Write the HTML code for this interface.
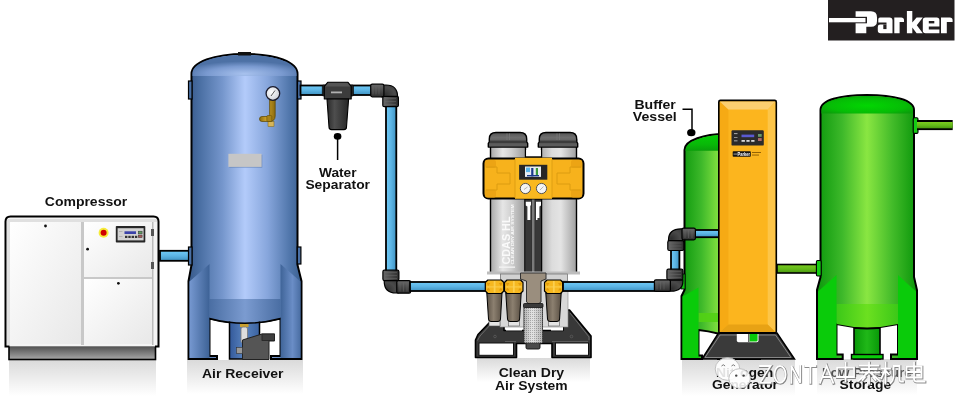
<!DOCTYPE html>
<html><head><meta charset="utf-8">
<style>
html,body{margin:0;padding:0;background:#fff;}
#c{position:relative;width:956px;height:416px;overflow:hidden;background:#fff;}
svg{display:block;will-change:transform;}
text{font-family:"Liberation Sans",sans-serif;}
.lb{font-weight:bold;font-size:12px;fill:#111;}
</style></head><body>
<div id="c">
<svg width="956" height="416" viewBox="0 0 956 416">
<defs>
  <linearGradient id="refl" x1="0" y1="0" x2="0" y2="1">
    <stop offset="0" stop-color="#dadada"/>
    <stop offset="1" stop-color="#ffffff"/>
  </linearGradient>
  <linearGradient id="blueTank" x1="0" y1="0" x2="1" y2="0">
    <stop offset="0" stop-color="#38598a"/>
    <stop offset="0.1" stop-color="#4a6fa3"/>
    <stop offset="0.3" stop-color="#7596cc"/>
    <stop offset="0.5" stop-color="#b3cbfa"/>
    <stop offset="0.7" stop-color="#87a6dc"/>
    <stop offset="0.9" stop-color="#4f75aa"/>
    <stop offset="1" stop-color="#3a5f8f"/>
  </linearGradient>
  <radialGradient id="blueDome" cx="0.5" cy="0.9" r="0.6">
    <stop offset="0" stop-color="#a8c2ee"/>
    <stop offset="0.6" stop-color="#7a9ad0"/>
    <stop offset="1" stop-color="#4d71a5"/>
  </radialGradient>
  <linearGradient id="greenTank" x1="0" y1="0" x2="1" y2="0">
    <stop offset="0" stop-color="#0c980c"/>
    <stop offset="0.25" stop-color="#3db82a"/>
    <stop offset="0.5" stop-color="#8ae642"/>
    <stop offset="0.75" stop-color="#44bc2a"/>
    <stop offset="1" stop-color="#0a960a"/>
  </linearGradient>
  <radialGradient id="greenDome" cx="0.5" cy="0.55" r="0.6">
    <stop offset="0" stop-color="#02d602"/>
    <stop offset="0.7" stop-color="#06bc06"/>
    <stop offset="1" stop-color="#0a9e0a"/>
  </radialGradient>
  <linearGradient id="pipeB" x1="0" y1="0" x2="0" y2="1">
    <stop offset="0" stop-color="#70cbf8"/>
    <stop offset="0.5" stop-color="#5cb4e4"/>
    <stop offset="1" stop-color="#3e92c2"/>
  </linearGradient>
  <linearGradient id="pipeBv" x1="0" y1="0" x2="1" y2="0">
    <stop offset="0" stop-color="#70cbf8"/>
    <stop offset="0.5" stop-color="#5cb4e4"/>
    <stop offset="1" stop-color="#3e92c2"/>
  </linearGradient>
  <linearGradient id="pipeG" x1="0" y1="0" x2="0" y2="1">
    <stop offset="0" stop-color="#7ccc20"/>
    <stop offset="0.55" stop-color="#62b818"/>
    <stop offset="1" stop-color="#4a9610"/>
  </linearGradient>
  <linearGradient id="fit" x1="0" y1="0" x2="0" y2="1">
    <stop offset="0" stop-color="#6a6a6a"/>
    <stop offset="0.5" stop-color="#4a4a4a"/>
    <stop offset="1" stop-color="#2e2e2e"/>
  </linearGradient>
  <linearGradient id="fitv" x1="0" y1="0" x2="1" y2="0">
    <stop offset="0" stop-color="#6a6a6a"/>
    <stop offset="0.5" stop-color="#4a4a4a"/>
    <stop offset="1" stop-color="#2e2e2e"/>
  </linearGradient>
  <linearGradient id="white" x1="0" y1="0" x2="1" y2="1">
    <stop offset="0" stop-color="#ffffff"/>
    <stop offset="1" stop-color="#e8e8e8"/>
  </linearGradient>
  <linearGradient id="baseG" x1="0" y1="0" x2="0" y2="1">
    <stop offset="0" stop-color="#4e4e4e"/>
    <stop offset="1" stop-color="#a8a8a8"/>
  </linearGradient>
  <linearGradient id="silver" x1="0" y1="0" x2="1" y2="0">
    <stop offset="0" stop-color="#a8a8a8"/>
    <stop offset="0.35" stop-color="#e6e6e6"/>
    <stop offset="0.6" stop-color="#d0d0d0"/>
    <stop offset="1" stop-color="#9a9a9a"/>
  </linearGradient>
  <linearGradient id="capG" x1="0" y1="0" x2="0" y2="1">
    <stop offset="0" stop-color="#555"/>
    <stop offset="0.35" stop-color="#6e6e6e"/>
    <stop offset="1" stop-color="#4a4a4a"/>
  </linearGradient>
  <linearGradient id="orangeF" x1="0" y1="0" x2="0" y2="1">
    <stop offset="0" stop-color="#fdc93a"/>
    <stop offset="1" stop-color="#e8a010"/>
  </linearGradient>
  <linearGradient id="bowl" x1="0" y1="0" x2="1" y2="0">
    <stop offset="0" stop-color="#5c5246"/>
    <stop offset="0.45" stop-color="#8c8070"/>
    <stop offset="1" stop-color="#5a5044"/>
  </linearGradient>
  <linearGradient id="sepG" x1="0" y1="0" x2="1" y2="0">
    <stop offset="0" stop-color="#2a2a2a"/>
    <stop offset="0.35" stop-color="#4e4e4e"/>
    <stop offset="1" stop-color="#262626"/>
  </linearGradient>
  <linearGradient id="blueBand" x1="0" y1="0" x2="1" y2="0">
    <stop offset="0" stop-color="#4a6ea3"/>
    <stop offset="0.5" stop-color="#7b9bd0"/>
    <stop offset="1" stop-color="#4a6ea3"/>
  </linearGradient>
  <linearGradient id="skirtL" x1="0" y1="0" x2="1" y2="0">
    <stop offset="0" stop-color="#7698d0"/>
    <stop offset="1" stop-color="#3d6296"/>
  </linearGradient>
  <linearGradient id="skirtR" x1="0" y1="0" x2="1" y2="0">
    <stop offset="0" stop-color="#3f6498"/>
    <stop offset="0.6" stop-color="#6a8dc6"/>
    <stop offset="1" stop-color="#4a6ea3"/>
  </linearGradient>
  <linearGradient id="colB" x1="0" y1="0" x2="1" y2="0">
    <stop offset="0" stop-color="#33599a"/>
    <stop offset="0.5" stop-color="#5a84c0"/>
    <stop offset="1" stop-color="#3a62a0"/>
  </linearGradient>
  <linearGradient id="silver2" x1="0" y1="0" x2="1" y2="0">
    <stop offset="0" stop-color="#b0b0b0"/>
    <stop offset="0.3" stop-color="#dcdcdc"/>
    <stop offset="0.55" stop-color="#e4e4e4"/>
    <stop offset="1" stop-color="#a0a0a0"/>
  </linearGradient>
  <pattern id="mesh" width="2" height="2" patternUnits="userSpaceOnUse">
    <rect width="2" height="2" fill="#ffffff"/>
    <rect width="1" height="1" fill="#666"/>
  </pattern>
  <linearGradient id="meshG" x1="0" y1="0" x2="1" y2="0">
    <stop offset="0" stop-color="#8a8a8a"/>
    <stop offset="0.45" stop-color="#d8d8d8"/>
    <stop offset="1" stop-color="#8a8a8a"/>
  </linearGradient>
  <linearGradient id="greenBand" x1="0" y1="0" x2="1" y2="0">
    <stop offset="0" stop-color="#3cc818"/>
    <stop offset="0.5" stop-color="#6ce020"/>
    <stop offset="1" stop-color="#3cc818"/>
  </linearGradient>
  <linearGradient id="colG" x1="0" y1="0" x2="1" y2="0">
    <stop offset="0" stop-color="#089808"/>
    <stop offset="0.5" stop-color="#20b818"/>
    <stop offset="1" stop-color="#089808"/>
  </linearGradient>
  <linearGradient id="brass" x1="0" y1="0" x2="1" y2="0">
    <stop offset="0" stop-color="#8a6a10"/>
    <stop offset="0.45" stop-color="#d0a428"/>
    <stop offset="1" stop-color="#8a6a10"/>
  </linearGradient>
  <radialGradient id="gface" cx="0.4" cy="0.4" r="0.7">
    <stop offset="0" stop-color="#ffffff"/>
    <stop offset="1" stop-color="#c8ccd4"/>
  </radialGradient>
  <radialGradient id="bendG" cx="0.2" cy="0.8" r="1">
    <stop offset="0" stop-color="#2e2e2e"/>
    <stop offset="0.6" stop-color="#4a4a4a"/>
    <stop offset="1" stop-color="#3a3a3a"/>
  </radialGradient>
  <linearGradient id="greenDome2" x1="0" y1="0" x2="0" y2="1">
    <stop offset="0" stop-color="#06cc06"/>
    <stop offset="0.6" stop-color="#08b808"/>
    <stop offset="1" stop-color="#0a9e0a"/>
  </linearGradient>
</defs>

<!-- reflections -->
<rect x="9" y="360" width="147" height="36" fill="url(#refl)"/>
<rect x="187" y="360" width="116" height="34" fill="url(#refl)"/>
<rect x="477" y="358" width="113" height="24" fill="url(#refl)"/>
<rect x="682" y="360" width="113" height="36" fill="url(#refl)"/>
<rect x="817" y="359" width="100" height="36" fill="url(#refl)"/>

<!-- ============ COMPRESSOR ============ -->
<g id="compressor">
  <rect x="9" y="346" width="146.5" height="13.5" fill="url(#baseG)" stroke="#000" stroke-width="1.6"/>
  <path d="M5.5,346.5 L5.5,221.5 Q5.5,216.5 10.5,216.5 L153.5,216.5 Q158.5,216.5 158.5,221.5 L158.5,346.5 Z" fill="#f4f4f4"/>
  <rect x="7" y="219" width="150" height="3" fill="#e0e0e0"/>
  <rect x="10" y="222" width="71" height="122" fill="url(#white)"/>
  <rect x="81" y="222" width="3" height="123" fill="#c8c8c8"/>
  <rect x="84" y="222" width="68" height="55" fill="url(#white)"/>
  <rect x="84" y="277" width="68" height="2" fill="#c8c8c8"/>
  <rect x="84" y="279" width="68" height="65" fill="url(#white)"/>
  <rect x="152" y="222" width="1.5" height="123" fill="#bbb"/>
  <rect x="7" y="222" width="3" height="123" fill="#e2e2e2"/>
  <path d="M9.5,346.5 L5.5,346.5 L5.5,221.5 Q5.5,216.5 10.5,216.5 L153.5,216.5 Q158.5,216.5 158.5,221.5 L158.5,346.5 L155,346.5" fill="none" stroke="#000" stroke-width="2"/>
  <circle cx="45.5" cy="226" r="1.4" fill="#111"/>
  <circle cx="87.6" cy="249.2" r="1.4" fill="#111"/>
  <circle cx="118.4" cy="283.3" r="1.4" fill="#111"/>
  <circle cx="103.6" cy="232.7" r="5" fill="#f6ec3a"/>
  <circle cx="103.6" cy="232.7" r="3" fill="#d00000"/>
  <rect x="115.8" y="226" width="29.5" height="16.5" rx="0.8" fill="#262626"/>
  <rect x="117.6" y="228.2" width="26" height="12.2" fill="#d2d2d2"/>
  <rect x="124.5" y="231.3" width="11.5" height="2.7" fill="#3a42a8"/>
  <rect x="125" y="235.8" width="2.4" height="2.2" fill="#333"/>
  <rect x="128.3" y="235.8" width="2.4" height="2.2" fill="#333"/>
  <rect x="131.6" y="235.8" width="2.4" height="2.2" fill="#333"/>
  <rect x="134.9" y="235.8" width="2.4" height="2.2" fill="#333"/>
  <rect x="119" y="231" width="3.5" height="0.8" fill="#aaa"/>
  <rect x="119" y="236" width="3.5" height="0.8" fill="#aaa"/>
  <rect x="138.3" y="231.2" width="3.8" height="2.6" fill="#5e9e5e" stroke="#333" stroke-width="0.5"/>
  <rect x="138.3" y="235" width="3.8" height="2.6" fill="#a85858" stroke="#333" stroke-width="0.5"/>
  <rect x="151" y="229" width="3" height="7" fill="#555"/>
  <rect x="151" y="262" width="3" height="7" fill="#555"/>
</g>

<!-- pipe compressor -> receiver -->
<rect x="160" y="250.8" width="30" height="10" fill="url(#pipeB)" stroke="#000" stroke-width="1.8"/>

<!-- ============ AIR RECEIVER ============ -->
<g id="receiver">
  <!-- body incl. skirt -->
  <path d="M191.5,265 L191.5,74 C191.5,62 214,54 245,54 C276,54 297.5,62 297.5,74 L297.5,265 L301.5,281 L301.5,359 L271,359 L271,356 L280.5,356 L280.5,318.5 Q245,328 209.5,318.5 L209.5,356 L217,356 L217,359 L188.5,359 L188.5,281 Z" fill="url(#blueTank)" stroke="#000" stroke-width="2"/>
  <path d="M192.5,76 L192.5,73 C192.5,63 214,55 245,55 C276,55 296.5,63 296.5,73 L296.5,76 Z" fill="url(#blueDome)"/>
  <!-- lower dome band -->
  <rect x="229.5" y="319" width="30" height="40" fill="url(#colB)"/>
  <path d="M209.5,299 L280.5,299 L280.5,318.5 Q245,328 209.5,318.5 Z" fill="url(#blueBand)"/>
  <!-- skirt panels -->
  <path d="M189.5,281.5 L209.5,264 L209.5,358 L189.5,358 Z" fill="url(#skirtL)"/>
  <path d="M300.5,281.5 L280.5,264 L280.5,358 L300.5,358 Z" fill="url(#skirtR)"/>
  <!-- center column -->
  <path d="M229.5,321.5 L229.5,359 L259.5,359 L259.5,321.5" fill="none" stroke="#000" stroke-width="1.5"/>
  <path d="M209.5,318.5 Q245,328 280.5,318.5" fill="none" stroke="#000" stroke-width="1.6"/>
  <!-- nozzles -->
  <rect x="188.5" y="81" width="3.5" height="18" fill="#4a70a5" stroke="#000" stroke-width="1.2"/>
  <rect x="297.5" y="81" width="3.5" height="18" fill="#4a70a5" stroke="#000" stroke-width="1.2"/>
  <rect x="188.5" y="247" width="3.5" height="18" fill="#4a70a5" stroke="#000" stroke-width="1.2"/>
  <rect x="297.3" y="247" width="3.6" height="17" fill="#4a70a5" stroke="#000" stroke-width="1.2"/>
  <rect x="238" y="52" width="13" height="3.5" fill="#111"/>
  <!-- label plate -->
  <rect x="229.3" y="154.7" width="33" height="13" fill="#5a78a8" opacity="0.6"/>
  <rect x="228.4" y="153.8" width="33.2" height="13.1" fill="#c6c6c6"/>
  <!-- gauge -->
  <rect x="268" y="121.5" width="6" height="5" fill="#d6b55a" stroke="#7a6010" stroke-width="0.5"/>
  <path d="M275.2,112 L275.2,116 Q275.2,121.5 269,121.5 L262,121.5 Q259.5,121.5 259.5,119 Q259.5,116.5 262,116.5 L268,116.5 Q269.6,116.5 269.6,114.5 L269.6,99 L275.2,99 Z" fill="url(#brass)" stroke="#5a4500" stroke-width="0.7"/>
  <rect x="266.8" y="115.5" width="5" height="6" rx="1" fill="#a8841a" stroke="#5a4500" stroke-width="0.5"/>
  <circle cx="272.9" cy="93.5" r="6.8" fill="url(#gface)" stroke="#1a1a2a" stroke-width="1.3"/>
  <line x1="271" y1="96" x2="275" y2="90.5" stroke="#333" stroke-width="0.8"/>
  <!-- drain -->
  <rect x="240" y="324" width="8.5" height="3" fill="#c8a030"/>
  <rect x="241" y="327" width="6.5" height="16" rx="2" fill="#ddd" stroke="#777" stroke-width="0.8"/>
  <path d="M242.5,340 L262,334 L274.5,334 L274.5,341 L269,341 L269,359.5 L242.5,359.5 Z" fill="#555" stroke="#222" stroke-width="1"/>
  <rect x="262" y="334" width="12.5" height="6.5" fill="#3e3e3e" stroke="#222" stroke-width="0.8"/>
  <rect x="236.5" y="347.5" width="6" height="6" fill="#999" stroke="#333" stroke-width="0.6"/>
</g>

<!-- pipe receiver -> separator -> elbow -->
<rect x="300.5" y="85.5" width="72" height="9.5" fill="url(#pipeB)" stroke="#000" stroke-width="1.8"/>
<!-- water separator -->
<g id="sep">
  <rect x="322.3" y="85" width="3.2" height="11" rx="1" fill="#222" stroke="#000" stroke-width="0.6"/>
  <rect x="350.3" y="85" width="3.2" height="11" rx="1" fill="#222" stroke="#000" stroke-width="0.6"/>
  <path d="M327.7,82.3 L348,82.3 L351.2,86.4 L351.2,99 L324.3,99 L324.3,86.4 Z" fill="#3c3c3c" stroke="#000" stroke-width="1.1" stroke-linejoin="round"/>
  <path d="M328.2,83 L347.5,83 L350.3,86.4 L325.2,86.4 Z" fill="#555"/>
  <path d="M327,99 L348.6,99 L346.5,127 Q346.5,129.6 344,129.6 L331.5,129.6 Q329,129.6 329,127 Z" fill="url(#sepG)" stroke="#000" stroke-width="1.1"/>
  <rect x="331" y="91.5" width="11" height="1.8" fill="#b0b0b0"/>
  <ellipse cx="337.6" cy="136.4" rx="3.8" ry="3.3" fill="#000"/>
  <line x1="337.6" y1="137" x2="337.6" y2="160" stroke="#000" stroke-width="1.5"/>
</g>
<!-- vertical pipe down -->
<rect x="386" y="104" width="10.3" height="168" fill="url(#pipeBv)" stroke="#000" stroke-width="1.8"/>
<!-- top elbow -->
<g stroke="#000" stroke-width="1.2">
  <path d="M382,85 L386,85 Q397.6,85 397.6,97 L382,97 Z" fill="url(#bendG)"/>
  <rect x="370.7" y="84.2" width="13.2" height="12.6" rx="1.5" fill="url(#fit)"/>
  <rect x="382.8" y="96.3" width="15.6" height="10.4" rx="1.5" fill="url(#fitv)"/>
</g>
<path d="M373,86.5 L373,94.5 M376,86.5 L376,94.5 M379,86.5 L379,94.5 M385,98.5 L396,98.5 M385,101.5 L396,101.5 M385,104.5 L396,104.5" stroke="#6a6a6a" stroke-width="0.7" opacity="0.7"/>
<!-- bottom elbow -->
<g stroke="#000" stroke-width="1.2">
  <path d="M384.2,280 L398,280 L398,293 L396,293 Q384.2,293 384.2,281 Z" fill="url(#bendG)"/>
  <rect x="382.9" y="270.2" width="16" height="10.4" rx="1.5" fill="url(#fitv)"/>
  <rect x="396.8" y="280.6" width="13.8" height="12.6" rx="1.5" fill="url(#fit)"/>
</g>
<path d="M385,272.5 L397,272.5 M385,275.5 L397,275.5 M385,278.5 L397,278.5 M400,282.5 L400,291.5 M403.5,282.5 L403.5,291.5 M407,282.5 L407,291.5" stroke="#6a6a6a" stroke-width="0.7" opacity="0.7"/>
<!-- pipe to CDAS -->
<rect x="410" y="282" width="76" height="9" fill="url(#pipeB)" stroke="#000" stroke-width="1.8"/>

<!-- ============ CDAS ============ -->
<g id="cdas">
  <!-- cylinders -->
  <rect x="490.5" y="140" width="35" height="133" fill="url(#silver)" stroke="#000" stroke-width="1.4"/>
  <rect x="541.5" y="140" width="35" height="133" fill="url(#silver2)" stroke="#000" stroke-width="1.4"/>
  <rect x="526.2" y="150" width="14.6" height="123" fill="#fff"/>
  <rect x="524.8" y="199" width="7" height="75" fill="#383838" stroke="#000" stroke-width="0.9"/>
  <rect x="534.6" y="199" width="7" height="75" fill="#383838" stroke="#000" stroke-width="0.9"/>
  <rect x="531.8" y="199" width="2.8" height="75" fill="#7a7a7a"/>
  <path d="M525.8,201.8 L531,201.8 L531,205 L530.3,206 L530.3,220 L527.4,220 L527.4,206.5 L525.8,205.5 Z" fill="#fff"/>
  <path d="M536,201.8 L541,201.8 L541,205.5 L539.4,206.5 L539.4,218 L537.5,218 L537.5,220 L536,220 Z" fill="#fff"/>
  
  <rect x="487" y="271.5" width="93" height="3" fill="#bdbdbd"/>
  <rect x="500.5" y="274" width="67" height="8" fill="#d2d2d2" stroke="#777" stroke-width="0.8"/>
  <!-- caps -->
  <path d="M488.3,147 L488.3,143.5 L489.3,142 L489.3,139 Q489.3,132.5 496,132.5 L520,132.5 Q526.7,132.5 526.7,139 L526.7,142 L527.7,143.5 L527.7,147 Z" fill="url(#capG)" stroke="#000" stroke-width="1.4" stroke-linejoin="round"/>
  <path d="M538.3,147 L538.3,143.5 L539.3,142 L539.3,139 Q539.3,132.5 546,132.5 L570,132.5 Q576.7,132.5 576.7,139 L576.7,142 L577.7,143.5 L577.7,147 Z" fill="url(#capG)" stroke="#000" stroke-width="1.4" stroke-linejoin="round"/>
  <rect x="489.8" y="140.6" width="36.4" height="2.6" fill="#3c3c3c"/>
  <rect x="539.8" y="140.6" width="36.4" height="2.6" fill="#3c3c3c"/>
  <rect x="489" y="143.5" width="38" height="3" fill="#5c5c5c"/>
  <rect x="539" y="143.5" width="38" height="3" fill="#5c5c5c"/>
  <path d="M507,133.5 L507,140 M509.5,133.5 L509.5,140 M557,133.5 L557,140 M559.5,133.5 L559.5,140" stroke="#777" stroke-width="0.9"/>
  <rect x="526" y="156.3" width="15" height="3.4" fill="#000"/>
  <!-- manifold -->
  <rect x="483.5" y="158.5" width="100" height="40" rx="5" fill="#f7b21c" stroke="#000" stroke-width="2"/>
  <rect x="515" y="157.8" width="37" height="41" fill="#f9b820"/>
  <line x1="515" y1="159" x2="515" y2="198" stroke="#d99a10" stroke-width="0.8"/>
  <line x1="552" y1="159" x2="552" y2="198" stroke="#d99a10" stroke-width="0.8"/>
  <rect x="485" y="160" width="11" height="8" rx="2" fill="#eca414"/>
  <rect x="485" y="189.5" width="11" height="8" rx="2" fill="#eca414"/>
  <rect x="571" y="160" width="11" height="8" rx="2" fill="#eca414"/>
  <rect x="571" y="189.5" width="11" height="8" rx="2" fill="#eca414"/>
  <path d="M486,167 L497,167 L497,173 L510,173 L510,184 L497,184 L497,190 L486,190" fill="none" stroke="#dc9c10" stroke-width="1"/>
  <path d="M581,167 L570,167 L570,173 L557,173 L557,184 L570,184 L570,190 L581,190" fill="none" stroke="#dc9c10" stroke-width="1"/>
  <rect x="519.1" y="164.8" width="28.2" height="14.9" fill="#262626"/>
  <rect x="525" y="166.5" width="16" height="10.4" fill="#e8eef2"/>
  <rect x="526" y="167.6" width="4" height="4.5" fill="#5ab4e8"/>
  <rect x="531.2" y="168" width="2.2" height="8.4" fill="#1a3a8a"/>
  <rect x="535.8" y="168" width="2.2" height="8" fill="#3a9a3a"/>
  <rect x="527" y="175" width="12" height="1.4" fill="#1a3a8a"/>
  <circle cx="525.4" cy="188.5" r="5.1" fill="#f4f4f4" stroke="#555" stroke-width="1"/>
  <circle cx="541.5" cy="188.5" r="5.1" fill="#f4f4f4" stroke="#555" stroke-width="1"/>
  <line x1="524" y1="189.5" x2="527.5" y2="187" stroke="#888" stroke-width="0.6"/>
  <line x1="540" y1="190" x2="543.5" y2="186.5" stroke="#888" stroke-width="0.6"/>
  <!-- text on cylinder -->
  <text transform="translate(509.8,264.5) rotate(-90)" font-size="11" fill="#fafafa" font-family="Liberation Sans" font-weight="bold" textLength="48" lengthAdjust="spacingAndGlyphs">CDAS HL</text>
  <text transform="translate(513.6,264.5) rotate(-90)" font-size="4.4" fill="#fafafa" font-family="Liberation Sans" font-weight="bold" textLength="60" lengthAdjust="spacingAndGlyphs">CLEAN DRY AIR SYSTEM</text>
  <rect x="499" y="266.5" width="16" height="1.3" fill="#f4f4f4"/>
  <!-- base frame -->
  <path d="M490,322 L504,322 L504,330.5 L563,330.5 L563,310 L569.5,310 L591,336 L591,357.5 L552,357.5 L552,343.5 L516.5,343.5 L516.5,357.5 L475.5,357.5 L475.5,340 L478,334.5 Z" fill="#383838" stroke="#000" stroke-width="1.6" stroke-linejoin="round"/>
  <path d="M477.5,340.5 L480,336 L491,324" fill="none" stroke="#777" stroke-width="0.8"/>
  <path d="M589,340 L589,337 L570,313" fill="none" stroke="#777" stroke-width="0.8"/>
  <line x1="505" y1="341.5" x2="516" y2="341.5" stroke="#666" stroke-width="0.8"/>
  <line x1="552" y1="341.5" x2="588" y2="341.5" stroke="#666" stroke-width="0.8"/>
  <rect x="479" y="343" width="34.5" height="12.3" fill="#fff" stroke="#111" stroke-width="1"/>
  <rect x="555.5" y="343" width="33" height="12.3" fill="#fff" stroke="#111" stroke-width="1"/>
  <circle cx="495" cy="336.5" r="1.3" fill="none" stroke="#666" stroke-width="0.6"/>
  <circle cx="571.5" cy="336.5" r="1.3" fill="none" stroke="#666" stroke-width="0.6"/>
  <rect x="506" y="327" width="16" height="3.5" fill="#fff"/>
  <rect x="551" y="327" width="12" height="3.5" fill="#fff"/>
  <rect x="500" y="281" width="68" height="46" fill="#d8d8d8" stroke="#888" stroke-width="0.6"/>
  <!-- center housing + mesh -->
  <path d="M520.5,273 L546,273 L546,279 L541,281 L541,302 Q533,309 526.5,302 L526.5,281 L520.5,279 Z" fill="#9a8e7e" stroke="#333" stroke-width="1"/>
  <rect x="526" y="341" width="14" height="8" rx="1.5" fill="#4a4a4a" stroke="#111" stroke-width="0.9"/>
  <rect x="524" y="305" width="18.5" height="38" rx="1" fill="url(#meshG)" stroke="#333" stroke-width="1"/>
  <rect x="524" y="305" width="18.5" height="38" fill="url(#mesh)" opacity="0.35"/>
  <rect x="523.5" y="303.5" width="19.5" height="4" rx="1" fill="#3a3a3a" stroke="#111" stroke-width="0.8"/>
  <!-- filters -->
  <g>
    <rect x="489" y="320" width="11" height="6" fill="#e4e4e4" stroke="#555" stroke-width="0.6"/>
    <rect x="508.5" y="320" width="11" height="6" fill="#e4e4e4" stroke="#555" stroke-width="0.6"/>
    <rect x="548.5" y="320" width="11" height="6" fill="#e4e4e4" stroke="#555" stroke-width="0.6"/>
    <path d="M486.8,293 L502,293 L500.5,319 Q500.5,321.5 498,321.5 L491,321.5 Q488.5,321.5 488.5,319 Z" fill="url(#bowl)" stroke="#000" stroke-width="1"/>
    <g transform="translate(485.3,280)">
      <path d="M2.5,0 L16,0 L18.5,2.5 L18.5,11 L16,13.5 L2.5,13.5 L0,11 L0,2.5 Z" fill="#f6b820" stroke="#000" stroke-width="1.2" stroke-linejoin="round"/>
      <path d="M1,2.8 L5,3 L3,6 Z M17.5,2.8 L13.5,3 L15.5,6 Z M1,10.5 L5,10.5 L3,7.8 Z M17.5,10.5 L13.5,10.5 L15.5,7.8 Z" fill="#e39c0c"/>
      <rect x="8.4" y="1" width="1.8" height="11.5" fill="#fcd45a" opacity="0.8"/>
      <rect x="1" y="6.2" width="16.5" height="1.4" fill="#fcd45a" opacity="0.6"/>
    </g>
    <path d="M505.8,293 L521.2,293 L519.6,319 Q519.6,321.5 517,321.5 L510,321.5 Q507.5,321.5 507.5,319 Z" fill="url(#bowl)" stroke="#000" stroke-width="1"/>
    <g transform="translate(504.5,280)">
      <path d="M2.5,0 L16,0 L18.5,2.5 L18.5,11 L16,13.5 L2.5,13.5 L0,11 L0,2.5 Z" fill="#f6b820" stroke="#000" stroke-width="1.2" stroke-linejoin="round"/>
      <path d="M1,2.8 L5,3 L3,6 Z M17.5,2.8 L13.5,3 L15.5,6 Z M1,10.5 L5,10.5 L3,7.8 Z M17.5,10.5 L13.5,10.5 L15.5,7.8 Z" fill="#e39c0c"/>
      <rect x="8.4" y="1" width="1.8" height="11.5" fill="#fcd45a" opacity="0.8"/>
      <rect x="1" y="6.2" width="16.5" height="1.4" fill="#fcd45a" opacity="0.6"/>
    </g>
    <path d="M545.8,293 L561.2,293 L559.6,319 Q559.6,321.5 557,321.5 L550,321.5 Q547.5,321.5 547.5,319 Z" fill="url(#bowl)" stroke="#000" stroke-width="1"/>
    <g transform="translate(544.5,280)">
      <path d="M2.5,0 L16,0 L18.5,2.5 L18.5,11 L16,13.5 L2.5,13.5 L0,11 L0,2.5 Z" fill="#f6b820" stroke="#000" stroke-width="1.2" stroke-linejoin="round"/>
      <path d="M1,2.8 L5,3 L3,6 Z M17.5,2.8 L13.5,3 L15.5,6 Z M1,10.5 L5,10.5 L3,7.8 Z M17.5,10.5 L13.5,10.5 L15.5,7.8 Z" fill="#e39c0c"/>
      <rect x="8.4" y="1" width="1.8" height="11.5" fill="#fcd45a" opacity="0.8"/>
      <rect x="1" y="6.2" width="16.5" height="1.4" fill="#fcd45a" opacity="0.6"/>
    </g>
  </g>
</g>

<!-- ============ BUFFER VESSEL ============ -->
<g id="buffer">
  <path d="M684.5,290 L684.5,150 C684.5,140 705,134 725,134 L760,134 L760,359 L718,359 L718,333.5 Q708,331 698.5,330 L698.5,355.5 L702,355.5 L702,359 L681.5,359 L681.5,296 Z" fill="url(#greenTank)" stroke="#000" stroke-width="2"/>
  <path d="M685.5,150.8 L685.5,150 C686,141 705,135 725,135 L740,135 L740,150.8 Z" fill="url(#greenDome2)"/>
  <path d="M698.5,313 L740,313 L740,322 L698.5,322 Z" fill="#52d214" opacity="0.9"/>
  <path d="M682.5,296.5 L698.5,287.5 L698.5,358 L682.5,358 Z" fill="#0acb0a"/>
  <rect x="681" y="274" width="4" height="15" fill="#10c010" stroke="#000" stroke-width="0.8"/>
</g>

<rect x="694" y="230" width="26" height="7.2" fill="url(#pipeB)" stroke="#000" stroke-width="1.8"/>
<!-- pipe CDAS -> buffer -->
<rect x="563" y="282" width="92" height="9" fill="url(#pipeB)" stroke="#000" stroke-width="1.8"/>
<rect x="671" y="249" width="8.4" height="22" fill="url(#pipeBv)" stroke="#000" stroke-width="1.8"/>
<!-- lower elbow -->
<g stroke="#000" stroke-width="1.2">
  <path d="M669,279.8 L682.9,279.8 L682.9,281 Q682.9,291.2 671,291.2 L669,291.2 Z" fill="url(#bendG)"/>
  <rect x="666.9" y="269.2" width="16" height="10.6" rx="1.5" fill="url(#fitv)"/>
  <rect x="654.4" y="279.8" width="16" height="11.6" rx="1.5" fill="url(#fit)"/>
</g>
<path d="M669,271.5 L681,271.5 M669,274.5 L681,274.5 M669,277.5 L681,277.5 M657,281.5 L657,289.5 M660.5,281.5 L660.5,289.5 M664,281.5 L664,289.5" stroke="#6a6a6a" stroke-width="0.7" opacity="0.7"/>
<!-- upper elbow -->
<g stroke="#000" stroke-width="1.2">
  <path d="M668.5,241 L668.5,240 Q668.5,228.8 681,228.8 L683,228.8 L683,241 Z" fill="url(#bendG)"/>
  <rect x="682" y="228.2" width="13.4" height="11.6" rx="1.5" fill="url(#fit)"/>
  <rect x="667.8" y="240.7" width="16" height="9.8" rx="1.5" fill="url(#fitv)"/>
</g>
<path d="M685,230 L685,238 M688.5,230 L688.5,238 M692,230 L692,238 M670,243 L681.5,243 M670,246 L681.5,246 M670,249 L681.5,249" stroke="#6a6a6a" stroke-width="0.7" opacity="0.7"/>

<!-- ============ NITROGEN GENERATOR ============ -->
<g id="gen">
  <path d="M718.5,333 L777,333 L794.5,359 L702,359 Z" fill="#3a3a3a" stroke="#000" stroke-width="1.5"/>
  <path d="M720,335 L775.5,335 L791,357.5 L705,357.5 Z" fill="none" stroke="#999" stroke-width="0.8"/>
  <path d="M736.8,333 L758.5,333 L758.5,340.5 Q758.5,342.3 756.7,342.3 L738.6,342.3 Q736.8,342.3 736.8,340.5 Z" fill="#fff"/>
  <path d="M749.6,333 L757.6,333 L757.6,340.3 Q757.6,341.4 756.5,341.4 L749.6,341.4 Z" fill="#0ac80a"/>
  <line x1="748.8" y1="333" x2="748.8" y2="342" stroke="#111" stroke-width="0.9"/>
  <rect x="718.9" y="100.5" width="57.3" height="232.5" rx="1.5" fill="#fcb51e" stroke="#000" stroke-width="1.8"/>
  <path d="M719.8,101.4 L728.4,109.6 L728.4,324.5 L719.8,332 Z" fill="#f6aa14"/>
  <path d="M775.3,101.4 L767.7,109.6 L767.7,324.5 L775.3,332 Z" fill="#fdc548"/>
  <path d="M719.8,101.4 L775.3,101.4 L767.7,109.6 L728.4,109.6 Z" fill="#fbce70"/>
  <path d="M719.8,332.1 L775.3,332.1 L767.7,324.5 L728.4,324.5 Z" fill="#e8a214"/>
  <rect x="731.5" y="130.2" width="32.3" height="15.4" rx="1.2" fill="#2b2b2b"/>
  <rect x="741.5" y="134.6" width="12.7" height="2.6" fill="#5a5ad2"/>
  <rect x="741.5" y="140" width="3.4" height="1.8" fill="#d8d8d8"/>
  <rect x="746.4" y="140" width="3.2" height="1.8" fill="#d8d8d8"/>
  <rect x="751.2" y="140" width="3.3" height="1.8" fill="#d8d8d8"/>
  <rect x="734" y="133.2" width="3.5" height="0.9" fill="#bbb"/>
  <rect x="734" y="137" width="3.5" height="0.9" fill="#999"/>
  <rect x="734" y="140.4" width="3.5" height="0.9" fill="#bbb"/>
  <rect x="758" y="134" width="3.7" height="2.8" fill="#6a9a6a"/>
  <rect x="758" y="138.1" width="3.7" height="2.9" fill="#b06a6a"/>
  <rect x="732.7" y="151.2" width="18.1" height="5.6" rx="0.8" fill="#151515"/>
  <rect x="733.5" y="153.7" width="4" height="0.7" fill="#ddd"/>
  <text x="737.5" y="155.8" font-size="5" font-weight="bold" fill="#fff" font-family="Liberation Sans" textLength="12.5" lengthAdjust="spacingAndGlyphs">Parker</text>
  <rect x="752" y="152" width="9" height="0.9" fill="#8a5a00"/>
  <rect x="752" y="154.6" width="7" height="0.9" fill="#8a5a00"/>
</g>

<!-- green pipe gen -> storage -->
<rect x="777" y="264.5" width="41" height="8.5" fill="url(#pipeG)" stroke="#000" stroke-width="1.6"/>

<!-- ============ STORAGE ============ -->
<g id="storage">
  <path d="M820.5,277 L820.5,110 C820.5,100 840,95 867,95 C894,95 914,100 914,110 L914,277 L917,290 L917,359 L891,359 L891,354.5 L898,354.5 L898,324 Q867,331 836.5,324 L836.5,354.5 L842.7,354.5 L842.7,359 L817,359 L817,290 Z" fill="url(#greenTank)" stroke="#000" stroke-width="2"/>
  <path d="M821.5,113.5 L821.5,110 C821.5,101 840,96 867,96 C894,96 913,101 913,110 L913,113.5 Z" fill="url(#greenDome)"/>
  <path d="M836.5,304 L898,304 L898,324 Q867,331 836.5,324 Z" fill="url(#greenBand)"/>
  <path d="M818,291.5 L836.5,275 L836.5,358 L818,358 Z" fill="#0acb0a"/>
  <path d="M916,291.5 L898,275 L898,358 L916,358 Z" fill="#0acb0a"/>
  <path d="M854,359 L854,328 Q867,329.5 880,328 L880,359 Z" fill="url(#colG)" stroke="#000" stroke-width="1.6"/>
  <rect x="851.5" y="354.5" width="31.5" height="4.5" fill="#0acb0a" stroke="#000" stroke-width="1.4"/>
  <rect x="816.4" y="260.5" width="4.8" height="15.5" rx="1.2" fill="#14cc14" stroke="#000" stroke-width="1.1"/>
  <rect x="913.2" y="117.8" width="4.8" height="15.6" rx="1.2" fill="#14cc14" stroke="#000" stroke-width="1.1"/>
</g>
<rect x="917" y="120" width="35.7" height="10.1" fill="#000"/>
<rect x="917" y="122" width="35.7" height="6.3" fill="url(#pipeG)"/>

<!-- ============ PARKER LOGO ============ -->
<g id="parker">
  <rect x="828" y="0" width="126.5" height="40.5" fill="#231f20"/>
  <g fill="#fff">
    <!-- P -->
    <path d="M855.6,11.3 L871,11.3 Q877,11.3 877,17.5 L877,21 Q877,26.8 871,26.8 L866.3,26.8 L866.3,33.2 L855.6,33.2 Z"/>
    <!-- a -->
    <path d="M880,17.6 L889.5,17.6 Q892.5,17.6 892.5,20.6 L892.5,33.2 L880.5,33.2 Q877.8,33.2 877.8,30.5 L877.8,27 Q877.8,24.6 880.2,24.6 L886.5,24.6 L886.5,22.4 L878.3,22.4 L878.3,19.3 Q878.3,17.6 880,17.6 Z"/>
    <!-- r -->
    <path d="M894.3,17.6 L901.2,17.6 Q904,17.6 904,20.3 L904,22 L899.6,22 L899.6,33.2 L894.3,33.2 Z"/>
    <!-- k -->
    <path d="M906.9,11 L912.3,11 L912.3,22.6 L916.6,17.6 L922.8,17.6 L916.8,25.2 L922.8,33.2 L916.6,33.2 L912.3,27.6 L912.3,33.2 L906.9,33.2 Z"/>
    <!-- e -->
    <path d="M925.5,17.6 L936.7,17.6 Q939.4,17.6 939.4,20.3 L939.4,26.5 L928.8,26.5 L928.8,29.5 L939.4,29.5 L939.4,33.2 L925.5,33.2 Q922.8,33.2 922.8,30.5 L922.8,20.3 Q922.8,17.6 925.5,17.6 Z"/>
    <!-- r -->
    <path d="M941,17.6 L949.8,17.6 Q952.6,17.6 952.6,20.3 L952.6,22 L946.8,22 L946.8,33.2 L941,33.2 Z"/>
  </g>
  <rect x="928.8" y="21" width="5.5" height="2.4" fill="#231f20"/>
  <rect x="883.3" y="24.5" width="3.2" height="4.6" fill="#231f20"/>
  <rect x="850" y="16.8" width="17" height="6.5" fill="#231f20"/>
  <rect x="829" y="18" width="36.5" height="4.3" fill="#fff"/>
</g>

<!-- ============ LABELS ============ -->
<text class="lb" x="44.8" y="205.5" textLength="82.4" lengthAdjust="spacingAndGlyphs">Compressor</text>
<text class="lb" x="202.0" y="378" textLength="81.5" lengthAdjust="spacingAndGlyphs">Air Receiver</text>
<text class="lb" x="319.0" y="177.1" textLength="37.6" lengthAdjust="spacingAndGlyphs">Water</text>
<text class="lb" x="305.4" y="189.3" textLength="64.6" lengthAdjust="spacingAndGlyphs">Separator</text>
<text class="lb" x="498.7" y="377.4" textLength="65.5" lengthAdjust="spacingAndGlyphs">Clean Dry</text>
<text class="lb" x="495.0" y="389.7" textLength="72.6" lengthAdjust="spacingAndGlyphs">Air System</text>
<text class="lb" x="634.4" y="108.8" textLength="41.4" lengthAdjust="spacingAndGlyphs">Buffer</text>
<text class="lb" x="632.8" y="120.8" textLength="44.0" lengthAdjust="spacingAndGlyphs">Vessel</text>
<text class="lb" x="716.0" y="377.4" textLength="57.3" lengthAdjust="spacingAndGlyphs">Nitrogen</text>
<text class="lb" x="712.0" y="389" textLength="66.0" lengthAdjust="spacingAndGlyphs">Generator</text>
<text class="lb" x="822.0" y="377.4" textLength="90.0" lengthAdjust="spacingAndGlyphs" fill-opacity="0.7">Low Pressure</text>
<text class="lb" x="839.5" y="388.8" textLength="51.7" lengthAdjust="spacingAndGlyphs">Storage</text>
<!-- buffer leader -->
<path d="M682.5,109.2 L692,109.2 L692,131" fill="none" stroke="#000" stroke-width="1.5"/>
<ellipse cx="691.3" cy="132.7" rx="4.2" ry="3.6" fill="#000"/>

<!-- ============ WATERMARK ============ -->
<g id="wm">
  <ellipse cx="727.5" cy="369" rx="12.3" ry="11.3" fill="#fff" fill-opacity="0.88" stroke="#bbb" stroke-width="0.9"/>
  <path d="M721.5,366 q1.8,-2.5 3.6,0 M731.5,366 q1.8,-2.5 3.6,0" fill="none" stroke="#777" stroke-width="1"/>
  <ellipse cx="739.6" cy="378.5" rx="10.8" ry="9.8" fill="#fff" fill-opacity="0.88" stroke="#bbb" stroke-width="0.9"/>
  <circle cx="736.2" cy="375.6" r="1.2" fill="#444"/><circle cx="743.6" cy="375.6" r="1.2" fill="#444"/>
  <g fill="none" stroke-linecap="square" stroke-linejoin="miter">
    <g transform="translate(0.5,0.6)" stroke="#666" stroke-width="2.8" opacity="0.75">
      <path id="wmp" d="M760,366 L770.5,366 L760,382.8 L770.5,382.8 M791.3,382.8 L791.3,366 L800.2,382.8 L800.2,366 M805.4,366 L815.3,366 M810.35,366 L810.35,382.8 M820,382.8 L826.6,366 L833.2,382.8 M822.5,377 L830.7,377 M837,367.5 L854,367.5 L854,377 L837,377 Z M845.5,363 L845.5,381.5 M859.5,365.5 L878.5,365.5 M861.5,369 L876.5,369 M860,372.5 L879,372.5 M869,362.5 L869,372.5 M868,372.5 L858,381 M870,372.5 L880,381 M869,375.5 L869,383.5 M865,377 L862.5,380 M873,377 L875.5,380 M881.5,368.5 L890,368.5 M885.5,362.5 L885.5,383.5 M885,370 L881.5,378 M886,371 L889,374.5 M893.5,366 L899.5,366 L899.5,380 Q899.5,382 903,381.5 M893.5,366 L893.5,377 Q893,381 890.5,383 M906.5,366.5 L921.5,366.5 L921.5,377.5 L906.5,377.5 Z M906.5,372 L921.5,372 M914,362.5 L914,379 Q914,381.5 917,381.5 L924.5,381.5"/>
      <ellipse cx="780" cy="374.4" rx="5.6" ry="8.4"/>
    </g>
    <g stroke="#fff" stroke-width="1.8">
      <use href="#wmp"/>
      <ellipse cx="780" cy="374.4" rx="5.6" ry="8.4"/>
    </g>
  </g>
</g>
</svg>
</div>
</body></html>
